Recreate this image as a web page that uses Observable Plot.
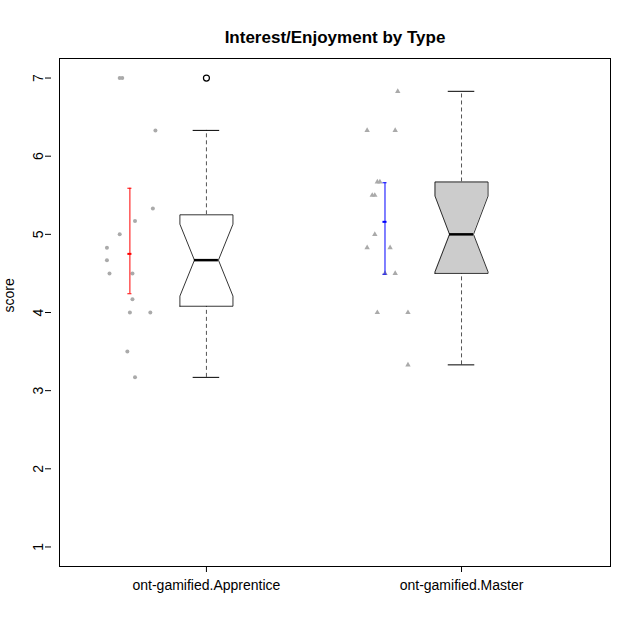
<!DOCTYPE html>
<html lang="en">
<head>
<meta charset="UTF-8">
<script src="https://d3js.org/d3.v7.min.js"></script>
<script src="https://cdn.jsdelivr.net/npm/@observablehq/plot@0.6"></script>
<style>body{margin:0;background:#fff;font-family:"Liberation Sans",Arial,sans-serif;}</style>
</head>
<body>
<div id="chart"></div>
<script>
const groups = ["ont-gamified.Apprentice", "ont-gamified.Master"];
// raw points (jittered x offset from group centre, score)
const apprenticePts = [[-0.34,7],[-0.33,7],[-0.20,6.33],[-0.21,5.33],[-0.28,5.17],[-0.34,5.0],[-0.39,4.83],[-0.39,4.67],[-0.38,4.5],[-0.29,4.5],[-0.29,4.17],[-0.30,4.0],[-0.22,4.0],[-0.31,3.5],[-0.28,3.17]];
const masterPts = [[-0.25,6.83],[-0.37,6.33],[-0.26,6.33],[-0.33,5.67],[-0.32,5.67],[-0.35,5.5],[-0.34,5.5],[-0.34,5.0],[-0.37,4.83],[-0.28,4.83],[-0.30,4.5],[-0.26,4.5],[-0.33,4.0],[-0.21,4.0],[-0.21,3.33]];
// mean and CI
const means = [4.75, 5.16];
const ciLo = [4.24, 4.49];
const ciHi = [5.59, 5.66];
const ciOffset = [-0.30, -0.30];
const ciColor = ["red", "blue"];
// box stats
const whiskLo = [3.17, 3.33];
const q1 = [4.08, 4.5];
const notchLo = [4.21, 4.52];
const median = [4.67, 5.0];
const notchHi = [5.13, 5.49];
const q3 = [5.25, 5.67];
const whiskHi = [6.33, 6.83];
const outliers = [[0, 7]];
const boxFill = ["white", "#cccccc"];

const hw = 0.104, nw = 0.047, capw = 0.052;
const pts = [
  ...apprenticePts.map(([dx, v]) => ({x: 1 + dx, v})),
  ...masterPts.map(([dx, v]) => ({x: 2 + dx, v, m: 1}))
];
const boxes = groups.map((g, i) => {
  const c = i + 1;
  return [
    {c, y: q1[i], x1: c - hw, x2: c + hw},
    {c, y: notchLo[i], x1: c - hw, x2: c + hw},
    {c, y: median[i], x1: c - nw, x2: c + nw},
    {c, y: notchHi[i], x1: c - hw, x2: c + hw},
    {c, y: q3[i], x1: c - hw, x2: c + hw}
  ];
});
const outline = boxes.map(b => [...b.map(d => ({x: d.x1, y: d.y})), ...b.slice().reverse().map(d => ({x: d.x2, y: d.y})), {x: b[0].x1, y: b[0].y}]);
const idx = groups.map((g, i) => i);

const marks = [
  Plot.frame({stroke: "black"}),
  Plot.text(["Interest/Enjoyment by Type"], {frameAnchor: "top", dy: -28, fontSize: 17, fontWeight: "bold"}),
  Plot.dot(pts.filter(d => !d.m), {x: "x", y: "v", r: 2, fill: "#aaaaaa"}),
  Plot.dot(pts.filter(d => d.m), {x: "x", y: "v", r: 2, symbol: "triangle", fill: "#aaaaaa"}),
  Plot.ruleX(idx, {x: i => i + 1, y1: i => whiskLo[i], y2: i => q1[i], strokeDasharray: "4,3", stroke: "#555"}),
  Plot.ruleX(idx, {x: i => i + 1, y1: i => q3[i], y2: i => whiskHi[i], strokeDasharray: "4,3", stroke: "#555"}),
  Plot.ruleY(idx, {y: i => whiskLo[i], x1: i => i + 1 - capw, x2: i => i + 1 + capw}),
  Plot.ruleY(idx, {y: i => whiskHi[i], x1: i => i + 1 - capw, x2: i => i + 1 + capw}),
  ...boxes.map((b, i) => Plot.areaX(b, {y: "y", x1: "x1", x2: "x2", fill: boxFill[i], curve: "linear"})),
  ...outline.map(o => Plot.line(o, {x: "x", y: "y", stroke: "black", strokeWidth: 0.8})),
  Plot.ruleY(idx, {y: i => median[i], x1: i => i + 1 - nw, x2: i => i + 1 + nw, strokeWidth: 2.5}),
  Plot.dot(outliers, {x: d => d[0] + 1, y: d => d[1], r: 3, stroke: "black", strokeWidth: 1.2}),
  Plot.ruleX(idx, {x: i => i + 1 + ciOffset[i], y1: i => ciLo[i], y2: i => ciHi[i], stroke: i => ciColor[i]}),
  ...[ciLo, means, ciHi].map(arr => Plot.ruleY(idx, {y: i => arr[i], x1: i => i + 1 + ciOffset[i] - 0.008, x2: i => i + 1 + ciOffset[i] + 0.008, stroke: i => ciColor[i], strokeWidth: arr === means ? 2 : 1}))
];

const plot = Plot.plot({
  width: 640, height: 640,
  marginTop: 58, marginLeft: 59, marginRight: 30, marginBottom: 74,
  style: {fontFamily: "Liberation Sans, Arial, sans-serif", fontSize: "14px", background: "white"},
  x: {domain: [0.424, 2.584], label: null},
  y: {domain: [0.75, 7.25], label: null},
  marks: [
    Plot.axisX({ticks: [1, 2], tickFormat: d => groups[d - 1], fontSize: 14, tickSize: 6, tickPadding: 8}),
    Plot.axisY({ticks: [1, 2, 3, 4, 5, 6, 7], tickFormat: d3.format("d"), tickSize: 6, tickRotate: -90, fontSize: 14, textAnchor: "middle", dx: -8}),
    Plot.text(["score"], {frameAnchor: "left", dx: -50, rotate: -90, fontSize: 14}),
    ...marks
  ]
});
document.getElementById("chart").replaceChildren(plot);
</script>
</body>
</html>
